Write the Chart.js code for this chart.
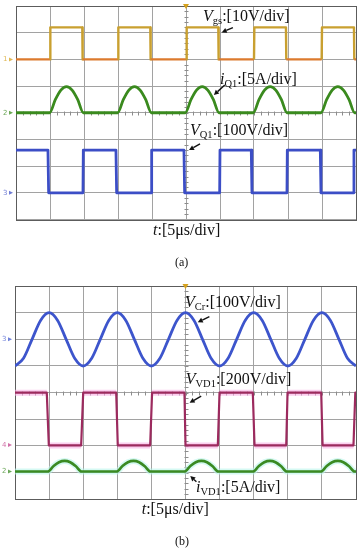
<!DOCTYPE html>
<html><head><meta charset="utf-8">
<script src="https://cdn.jsdelivr.net/npm/chart.js@4.4.0/dist/chart.umd.min.js"></script>
<style>
html,body{margin:0;padding:0;background:#fff;}
#wrap{position:relative;width:362px;height:550px;overflow:hidden;background:#fff;}
canvas{position:absolute;left:0;}
.lbl{position:absolute;font-family:"Liberation Serif","Times New Roman",serif;font-size:16px;line-height:16px;color:#111;white-space:nowrap;}
.lbl sub{font-size:10.5px;vertical-align:baseline;position:relative;top:3px;}
.cap{font-size:12px;line-height:12px;}
</style></head>
<body><div id="wrap">
<canvas id="ca" width="362" height="250" style="top:0"></canvas>
<canvas id="cb" width="362" height="240" style="top:270px"></canvas>
<div class="lbl" style="left:203px;top:8px"><i>V</i><sub>gs</sub>:[10V/div]</div>
<div class="lbl" style="left:220px;top:70.5px"><i>i</i><sub>Q1</sub>:[5A/div]</div>
<div class="lbl" style="left:190px;top:122px"><i>V</i><sub>Q1</sub>:[100V/div]</div>
<div class="lbl" style="left:153px;top:222px"><i>t</i>:[5μs/div]</div>
<div class="lbl cap" style="left:175px;top:256px">(a)</div>
<div class="lbl" style="left:185px;top:293.7px"><i>V</i><sub>Cr</sub>:[100V/div]</div>
<div class="lbl" style="left:185.7px;top:371px"><i>V</i><sub>VD1</sub>:[200V/div]</div>
<div class="lbl" style="left:196px;top:478.7px"><i>i</i><sub>VD1</sub>:[5A/div]</div>
<div class="lbl" style="left:141.7px;top:501px"><i>t</i>:[5μs/div]</div>
<div class="lbl cap" style="left:175px;top:535px">(b)</div>
</div>
<script>
// ---------- Panel (a) data (time in µs) ----------
const tVgs = [0, 5.0, 5.05, 9.75, 9.8, 15.0, 15.05, 19.75, 19.8, 25.05, 25.1, 29.75, 29.8, 35.0, 35.05, 39.7, 39.75, 44.95, 45.0, 49.7, 49.75, 50];
const vVgs = [0, 0, 12, 12, 0, 0, 12, 12, 0, 0, 12, 12, 0, 0, 12, 12, 0, 0, 12, 12, 0, 0];

const tIQ1 = [0,
  4.95, 5.78, 6.6, 7.43, 8.25, 9.08, 9.9,
  14.95, 15.78, 16.6, 17.43, 18.25, 19.08, 19.9,
  24.9, 25.73, 26.55, 27.38, 28.2, 29.03, 29.85,
  34.9, 35.73, 36.55, 37.38, 38.2, 39.03, 39.85,
  44.85, 45.68, 46.5, 47.33, 48.15, 48.98, 49.8,
  50];
const vIQ1 = [0,
  0, 2.45, 4.25, 4.9, 4.25, 2.45, 0,
  0, 2.45, 4.25, 4.9, 4.25, 2.45, 0,
  0, 2.45, 4.25, 4.9, 4.25, 2.45, 0,
  0, 2.45, 4.25, 4.9, 4.25, 2.45, 0,
  0, 2.45, 4.25, 4.9, 4.25, 2.45, 0,
  0];

const tVQ1 = [0, 4.7, 4.8, 9.85, 9.9, 14.7, 14.8, 19.9, 19.95, 24.7, 24.8, 29.95, 30.0, 34.6, 34.7, 39.85, 39.9, 44.75, 44.85, 49.65, 49.7, 50];
const vVQ1 = [160, 160, 0, 0, 160, 160, 0, 0, 160, 160, 0, 0, 160, 160, 0, 0, 160, 160, 0, 0, 160, 160];

// ---------- Panel (b) data ----------
const tVCr = [0, 1.25, 2.5, 3.75, 5, 6.25, 7.5, 8.75, 10, 11.25, 12.5, 13.75, 15, 16.25, 17.5, 18.75,
  20, 21.25, 22.5, 23.75, 25, 26.25, 27.5, 28.75, 30, 31.25, 32.5, 33.75, 35, 36.25, 37.5, 38.75,
  40, 41.25, 42.5, 43.75, 45, 46.25, 47.5, 48.75, 50];
const vVCr = [-100, -71, 0, 71, 100, 71, 0, -71, -100, -71, 0, 71, 100, 71, 0, -71,
  -100, -71, 0, 71, 100, 71, 0, -71, -100, -71, 0, 71, 100, 71, 0, -71,
  -100, -71, 0, 71, 100, 71, 0, -71, -100];

const tVVD1 = [0, 4.66, 4.96, 9.7, 10.0, 14.84, 15.07, 19.82, 20.1, 24.85, 25.0, 29.74, 29.99, 34.87, 35.12, 39.77, 39.96, 44.9, 45.1, 49.63, 49.9, 50];
const vVVD1 = [400, 400, 4, 4, 400, 400, 4, 4, 400, 400, 4, 4, 400, 400, 4, 4, 400, 400, 4, 4, 400, 400];

const tIVD1 = [0,
  4.8, 5.63, 6.45, 7.28, 8.1, 8.93, 9.75,
  14.9, 15.73, 16.55, 17.38, 18.2, 19.03, 19.85,
  24.85, 25.68, 26.5, 27.33, 28.15, 28.98, 29.8,
  34.9, 35.73, 36.55, 37.38, 38.2, 39.03, 39.85,
  44.85, 45.68, 46.5, 47.33, 48.15, 48.98, 49.8,
  50];
const vIVD1 = [0,
  0, 1.0, 1.75, 2.0, 1.75, 1.0, 0,
  0, 1.0, 1.75, 2.0, 1.75, 1.0, 0,
  0, 1.0, 1.75, 2.0, 1.75, 1.0, 0,
  0, 1.0, 1.75, 2.0, 1.75, 1.0, 0,
  0, 1.0, 1.75, 2.0, 1.75, 1.0, 0,
  0];

// channel scales: units per division and ground offset in divisions
const chA = { vgs: [10, 2], iq1: [5, 0], vq1: [100, -3] };
const chB = { vcr: [100, 2], vvd1: [200, -2], ivd1: [5, -2.96] };

function pts(ts, vs, ch) { return ts.map((t, i) => ({ x: t, y: ch[1] + vs[i] / ch[0] })); }

const GRID = '#a2a2a2';
const BORDER = '#5c5c5c';

const scopePlugin = {
  id: 'scope',
  beforeDatasetsDraw(chart, args, opts) {
    const { ctx, chartArea: a, scales: { x, y } } = chart;
    ctx.save();
    ctx.strokeStyle = '#8c8c8c'; ctx.lineWidth = 1;
    const cy = Math.round(y.getPixelForValue(0)) + 0.5;
    const cx = Math.round(x.getPixelForValue(25)) + 0.5;
    ctx.beginPath();
    for (let i = 0; i <= 50; i++) {
      const px = Math.round(x.getPixelForValue(i)) + 0.5;
      ctx.moveTo(px, cy - 2); ctx.lineTo(px, cy + 2);
    }
    for (let i = -20; i <= 20; i++) {
      const py = Math.round(y.getPixelForValue(i / 5)) + 0.5;
      ctx.moveTo(cx - 2, py); ctx.lineTo(cx + 2, py);
    }
    ctx.stroke();
    ctx.strokeStyle = BORDER;
    ctx.strokeRect(Math.round(a.left) + 0.5, Math.round(a.top) + 0.5, Math.round(a.right - a.left), Math.round(a.bottom - a.top));
    ctx.restore();
  },
  afterDraw(chart, args, opts) {
    const { ctx, chartArea: a, scales: { x, y } } = chart;
    ctx.save();
    const cx = x.getPixelForValue(25);
    ctx.fillStyle = '#d6a21e';
    ctx.beginPath(); ctx.moveTo(cx - 3, a.top - 2); ctx.lineTo(cx + 3, a.top - 2); ctx.lineTo(cx, a.top + 3); ctx.closePath(); ctx.fill();
    (opts.markers || []).forEach(m => {
      const py = y.getPixelForValue(m.div);
      ctx.fillStyle = m.color; ctx.globalAlpha = 0.75;
      ctx.font = '7px "DejaVu Sans"'; ctx.textBaseline = 'middle'; ctx.textAlign = 'left';
      ctx.fillText(m.text, a.left - 13, py);
      ctx.beginPath(); ctx.moveTo(a.left - 7, py - 2); ctx.lineTo(a.left - 3, py); ctx.lineTo(a.left - 7, py + 2); ctx.closePath(); ctx.fill();
    });
    ctx.globalAlpha = 1;
    ctx.strokeStyle = '#111'; ctx.fillStyle = '#111'; ctx.lineWidth = 1.4;
    (opts.arrows || []).forEach(ar => {
      const x0 = x.getPixelForValue(ar.from[0]), y0 = y.getPixelForValue(ar.from[1]);
      const x1 = x.getPixelForValue(ar.to[0]), y1 = y.getPixelForValue(ar.to[1]);
      const ang = Math.atan2(y1 - y0, x1 - x0);
      const hl = 5, hw = 2.6;
      const bx = x1 - hl * Math.cos(ang), by = y1 - hl * Math.sin(ang);
      ctx.beginPath(); ctx.moveTo(x0, y0); ctx.lineTo(bx, by); ctx.stroke();
      ctx.beginPath(); ctx.moveTo(x1, y1);
      ctx.lineTo(bx + hw * Math.sin(ang), by - hw * Math.cos(ang));
      ctx.lineTo(bx - hw * Math.sin(ang), by + hw * Math.cos(ang));
      ctx.closePath(); ctx.fill();
    });
    ctx.restore();
  }
};

function scales() {
  return {
    x: { type: 'linear', min: 0, max: 50, ticks: { display: false, stepSize: 5 },
      grid: { color: GRID, drawTicks: false, lineWidth: 1 }, border: { display: false },
      afterFit(s) { s.height = 0; } },
    y: { type: 'linear', min: -4, max: 4, ticks: { display: false, stepSize: 1 },
      grid: { color: GRID, drawTicks: false, lineWidth: 1 }, border: { display: false },
      afterFit(s) { s.width = 0; } }
  };
}

function haloSeg(color) {
  return { borderColor: c => Math.abs(c.p1.parsed.x - c.p0.parsed.x) < 0.5 ? 'rgba(0,0,0,0)' : color };
}

new Chart(document.getElementById('ca'), {
  type: 'line',
  data: {
    datasets: [
      { label: 'Vgs', data: pts(tVgs, vVgs, chA.vgs), borderColor: '#c9a030', borderWidth: 2.4,
        segment: { borderColor: c => (c.p0.parsed.y === chA.vgs[1] && c.p1.parsed.y === chA.vgs[1]) ? '#dc7a2e' : '#c9a030' } },
      { label: 'iQ1', data: pts(tIQ1, vIQ1, chA.iq1), borderColor: '#3a8a1e', borderWidth: 2.8, cubicInterpolationMode: 'monotone' },
      { label: 'VQ1', data: pts(tVQ1, vVQ1, chA.vq1), borderColor: '#3c4ec6', borderWidth: 2.8 }
    ]
  },
  options: {
    responsive: false, animation: false, devicePixelRatio: 1,
    layout: { padding: { left: 16, top: 6, right: 6, bottom: 30.5 } },
    elements: { point: { radius: 0 }, line: { borderJoinStyle: 'round' } },
    scales: scales(),
    plugins: {
      legend: { display: false }, tooltip: { enabled: false },
      scope: {
        markers: [
          { text: '1', div: 2, color: '#d6a21e' },
          { text: '2', div: 0, color: '#3a8a1e' },
          { text: '3', div: -3, color: '#3c4ec6' }
        ],
        arrows: [
          { from: [31.9, 3.19], to: [30.25, 3.01] },
          { from: [30.7, 1.04], to: [29.1, 0.665] },
          { from: [27.06, -1.17], to: [25.44, -1.40] }
        ]
      }
    }
  },
  plugins: [scopePlugin]
});

new Chart(document.getElementById('cb'), {
  type: 'line',
  data: {
    datasets: [
      { label: 'VVD1 halo', order: 5, data: pts(tVVD1, vVVD1, chB.vvd1), borderColor: 'rgba(248,175,228,0.6)', borderWidth: 6, segment: haloSeg('rgba(248,175,228,0.6)') },
      { label: 'iVD1 halo', order: 5, data: pts(tIVD1, vIVD1, chB.ivd1), borderColor: 'rgba(185,245,235,0.6)', borderWidth: 6, cubicInterpolationMode: 'monotone' },
      { label: 'VCr', order: 1, data: pts(tVCr, vVCr, chB.vcr), borderColor: '#3d55cc', borderWidth: 2.8, cubicInterpolationMode: 'monotone' },
      { label: 'VVD1', order: 1, data: pts(tVVD1, vVVD1, chB.vvd1), borderColor: '#9c2a5e', borderWidth: 2.2 },
      { label: 'iVD1', order: 1, data: pts(tIVD1, vIVD1, chB.ivd1), borderColor: '#3a8a22', borderWidth: 2.6, cubicInterpolationMode: 'monotone' }
    ]
  },
  options: {
    responsive: false, animation: false, devicePixelRatio: 1,
    layout: { padding: { left: 15, top: 16, right: 6, bottom: 10.7 } },
    elements: { point: { radius: 0 }, line: { borderJoinStyle: 'round' } },
    scales: scales(),
    plugins: {
      legend: { display: false }, tooltip: { enabled: false },
      scope: {
        markers: [
          { text: '3', div: 2, color: '#3d55cc' },
          { text: '4', div: -1.96, color: '#c0408a' },
          { text: '2', div: -2.96, color: '#3a8a22' }
        ],
        arrows: [
          { from: [28.5, 2.85], to: [26.8, 2.64] },
          { from: [27.3, -0.13], to: [25.6, -0.38] },
          { from: [26.6, -3.34], to: [25.7, -3.13] }
        ]
      }
    }
  },
  plugins: [scopePlugin]
});
</script>
</body></html>
